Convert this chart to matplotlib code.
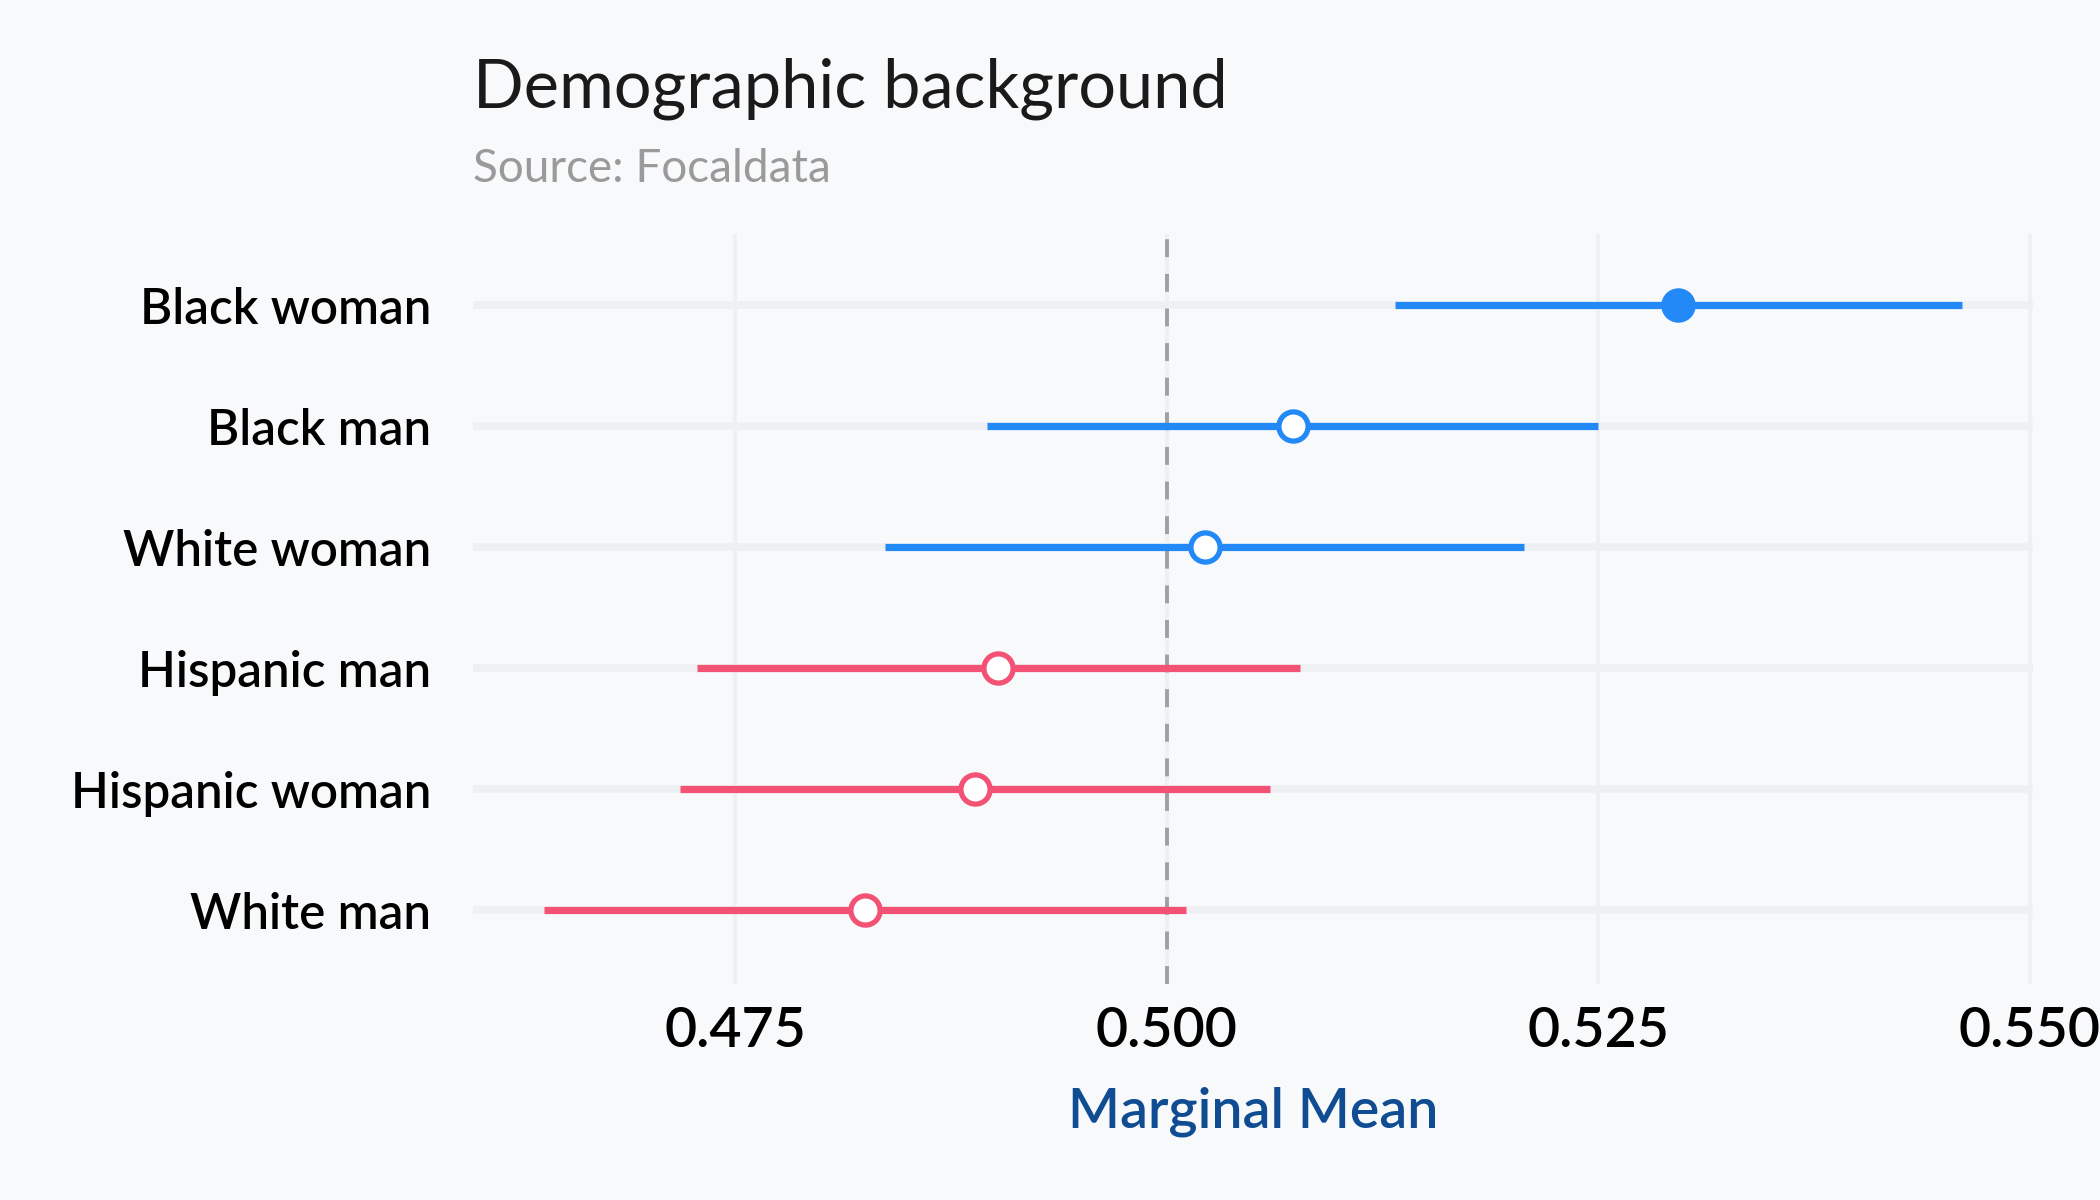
import numpy as np
import matplotlib.pyplot as plt
import matplotlib.font_manager as fm


# ===============================
# Data
# ===============================

groups = ["Black woman", "Black man", "White woman",
          "Hispanic man", "Hispanic woman", "White man"]
estimate = [0.5296, 0.5073, 0.5022, 0.4902, 0.4889, 0.4825]
lower = [0.5132, 0.4896, 0.4837, 0.4728, 0.4718, 0.4639]
upper = [0.5461, 0.5250, 0.5207, 0.5077, 0.5060, 0.5011]
x_ticks = [0.475, 0.500, 0.525, 0.550]
reference = 0.5

TITLE = "Demographic background"
SUBTITLE = "Source: Focaldata"
XLABEL = "Marginal Mean"


# ===============================
# Style
# ===============================

BG = "#f8f9fb"
BLUE = "#2389f7"
PINK = "#f35274"
GRID = "#eef0f3"

names = {f.name for f in fm.fontManager.ttflist}
FONT = "Lato" if "Lato" in names else "DejaVu Sans"
plt.rcParams["font.family"] = [FONT, "DejaVu Sans"]


# ===============================
# Plot
# ===============================

def plot_chart():
    fig = plt.figure(figsize=(21, 12), dpi=100, facecolor=BG)
    ax = fig.add_axes([473 / 2100, 1 - 984 / 1200,
                       (2033 - 473) / 2100, 750 / 1200])
    ax.set_facecolor(BG)

    y = np.arange(len(groups))

    for i in y:
        color = BLUE if estimate[i] > reference else PINK
        signif = lower[i] > reference or upper[i] < reference
        ax.plot([lower[i], upper[i]], [i, i], color=color, lw=5.2,
                solid_capstyle="butt", zorder=3)
        ax.plot(estimate[i], i, "o", ms=21,
                mfc=color if signif else "white",
                mec=color, mew=3.8, zorder=4)

    ax.axvline(reference, color="#a0a0a0", lw=2.8,
               linestyle=(0, (4.6, 4.3)), zorder=2)

    ax.set_xlim(0.4598, 0.5502)
    ax.set_ylim(5.61, -0.59)
    ax.set_xticks(x_ticks)
    ax.set_xticklabels([f"{t:.3f}" for t in x_ticks])
    ax.set_yticks(y)
    ax.set_yticklabels(groups)

    ax.grid(axis="x", color=GRID, lw=3, zorder=0)
    ax.grid(axis="y", color=GRID, lw=5.5, zorder=0)
    for s in ax.spines.values():
        s.set_visible(False)

    ax.tick_params(axis="both", length=0, labelcolor="#000000")
    ax.tick_params(axis="y", pad=30, labelsize=35.5)
    ax.tick_params(axis="x", pad=16, labelsize=40)
    for lab in ax.get_xticklabels() + ax.get_yticklabels():
        lab.set_fontweight("semibold")

    ax.set_xlabel(XLABEL, fontsize=40, color="#0f4c92",
                  fontweight="semibold", labelpad=22)

    fig.text(473 / 2100, 1 - 107 / 1200, TITLE, fontsize=48,
             color="#1a1a1a", va="baseline", ha="left")
    fig.text(473 / 2100, 1 - 182 / 1200, SUBTITLE, fontsize=33,
             color="#9a9a9a", va="baseline", ha="left")

    fig.savefig("out.png", dpi=100, facecolor=BG)


def main():
    plot_chart()


if __name__ == "__main__":
    main()
